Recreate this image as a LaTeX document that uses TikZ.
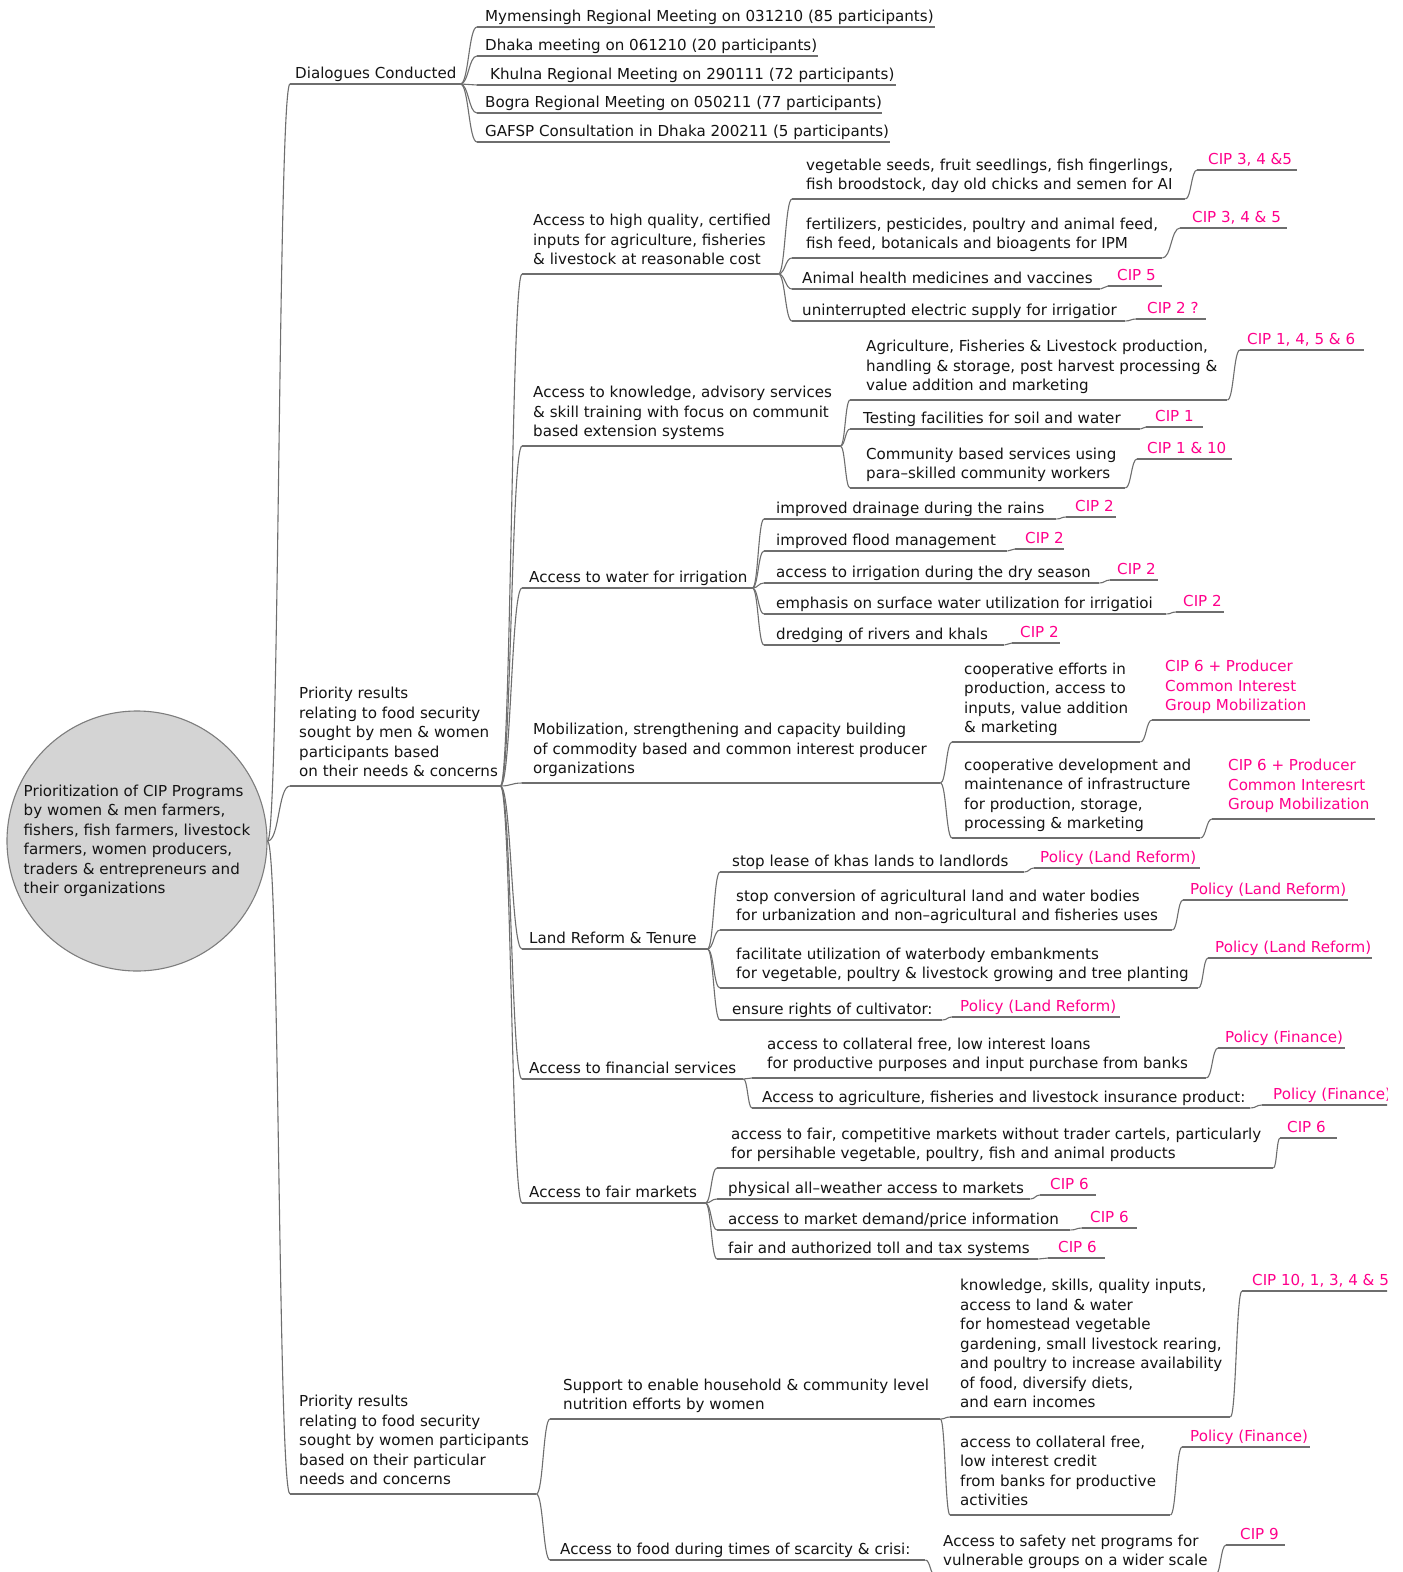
\documentclass[tikz,border=0pt]{standalone}
\usepackage{fontspec}
\setmainfont{DejaVu Sans}
\usetikzlibrary{calc}
\definecolor{edgegray}{RGB}{110,110,110}
\definecolor{cippink}{RGB}{255,0,140}
\definecolor{rootfill}{RGB}{212,212,212}
\definecolor{rootline}{RGB}{125,125,125}
\definecolor{txt}{RGB}{20,20,20}
\tikzset{
  mm/.style={anchor=south west, inner xsep=0pt, inner ysep=5pt, text depth=0pt,
    font=\fontsize{15.1}{19.5}\selectfont, text=txt},
  ml/.style={inner ysep=9pt},
  pink/.style={text=cippink},
  uline/.style={draw=edgegray, line width=1.1pt},
  edge/.style={draw=edgegray, line width=1.1pt},
  rootnode/.style={circle, draw=rootline, fill=rootfill, line width=1.1pt,
    minimum size=260pt, inner sep=0pt, align=left,
    font=\fontsize{15.1}{19.5}\selectfont, text=txt}
}
\newcommand\mmn[7]{%
  \node[mm,#1] (#2) at (#3,#5) {\makebox[\dimexpr #4pt-#3pt\relax][l]{\hspace*{#6pt}\begin{tabular}[b]{@{}l@{}}#7\end{tabular}}};
  \draw[uline] (#2.south west) -- (#2.south east);}
\newcommand\mmedge[2]{%
  \draw[edge] let \p1=(#1.south east), \p2=(#2.south west), \n1={0.5*(\x2-\x1)} in
    (\p1) .. controls +(\n1,0) and +(-\n1,0) .. (\p2);}
\begin{document}
\begin{tikzpicture}[x=1pt,y=-1pt]
\useasboundingbox (0,0) rectangle (1403,1572);
\fill[white] (0,0) rectangle (1403,1572);
\begin{scope}
\clip (0,0) rectangle (1387,1572);
\node[rootnode] (root) at (137,841) {Prioritization of CIP Programs\\by women \& men farmers,\\fishers, fish farmers, livestock\\farmers, women producers,\\traders \& entrepreneurs and\\their organizations};

\mmn{}{D}{290}{460}{84}{5}{Dialogues Conducted}
\mmn{ml}{P1}{290}{500}{786}{9}{Priority results\\relating to food security\\sought by men \& women\\participants based\\on their needs \& concerns}
\mmn{ml}{P2}{290}{536}{1494}{9}{Priority results\\relating to food security\\sought by women participants\\based on their particular\\needs and concerns}

\draw[edge] (root.east) .. controls +(12,0) and +(-12,0) .. (D.south west);
\draw[edge] (root.east) .. controls +(12,0) and +(-12,0) .. (P1.south west);
\draw[edge] (root.east) .. controls +(12,0) and +(-12,0) .. (P2.south west);

\mmn{}{M1}{477}{935}{27}{8}{Mymensingh Regional Meeting on 031210 (85 participants)}
\mmn{}{M2}{477}{818}{56}{8}{Dhaka meeting on 061210 (20 participants)}
\mmn{}{M3}{477}{896}{85}{13}{Khulna Regional Meeting on 290111 (72 participants)}
\mmn{}{M4}{477}{882}{113}{8}{Bogra Regional Meeting on 050211 (77 participants)}
\mmn{}{M5}{477}{890}{142}{8}{GAFSP Consultation in Dhaka 200211 (5 participants)}
\mmedge{D}{M1}\mmedge{D}{M2}\mmedge{D}{M3}\mmedge{D}{M4}\mmedge{D}{M5}

\mmn{ml}{A1}{522}{778}{274}{11}{Access to high quality, certified\\inputs for agriculture, fisheries\\\& livestock at reasonable cost}
\mmn{ml}{A2}{522}{840}{446}{11}{Access to knowledge, advisory services\\\& skill training with focus on communit\\based extension systems}
\mmn{}{A3}{522}{752}{588}{7}{Access to water for irrigation}
\mmn{ml}{A4}{522}{940}{783}{11}{Mobilization, strengthening and capacity building\\of commodity based and common interest producer\\organizations}
\mmn{}{A5}{522}{707}{949}{7}{Land Reform \& Tenure}
\mmn{}{A6}{522}{743}{1079}{7}{Access to financial services}
\mmn{}{A7}{522}{705}{1203}{7}{Access to fair markets}
\mmedge{P1}{A1}\mmedge{P1}{A2}\mmedge{P1}{A3}\mmedge{P1}{A4}\mmedge{P1}{A5}\mmedge{P1}{A6}\mmedge{P1}{A7}

\mmn{ml}{C11}{792}{1185}{199}{14}{vegetable seeds, fruit seedlings, fish fingerlings,\\fish broodstock, day old chicks and semen for AI}
\mmn{pink}{L11}{1197}{1297}{170}{11}{CIP 3, 4 \&5}
\mmn{ml}{C12}{792}{1162}{258}{14}{fertilizers, pesticides, poultry and animal feed,\\fish feed, botanicals and bioagents for IPM}
\mmn{pink}{L12}{1180}{1287}{228}{12}{CIP 3, 4 \& 5}
\mmn{}{C13}{792}{1100}{289}{10}{Animal health medicines and vaccines}
\mmn{pink}{L13}{1108}{1162}{286}{9}{CIP 5}
\mmn{}{C14}{792}{1125}{321}{10}{uninterrupted electric supply for irrigatior}
\mmn{pink}{L14}{1136}{1206}{319}{11}{CIP 2 ?}
\mmedge{A1}{C11}\mmedge{A1}{C12}\mmedge{A1}{C13}\mmedge{A1}{C14}
\mmedge{C11}{L11}\mmedge{C12}{L12}\mmedge{C13}{L13}\mmedge{C14}{L14}

\mmn{ml}{C21}{850}{1227}{400}{16}{Agriculture, Fisheries \& Livestock production,\\handling \& storage, post harvest processing \&\\value addition and marketing}
\mmn{pink}{L21}{1240}{1364}{350}{7}{CIP 1, 4, 5 \& 6}
\mmn{}{C22}{850}{1140}{429}{13}{Testing facilities for soil and water}
\mmn{pink}{L22}{1146}{1203}{427}{9}{CIP 1}
\mmn{ml}{C23}{850}{1125}{488}{16}{Community based services using\\para–skilled community workers}
\mmn{pink}{L23}{1137}{1232}{459}{10}{CIP 1 \& 10}
\mmedge{A2}{C21}\mmedge{A2}{C22}\mmedge{A2}{C23}
\mmedge{C21}{L21}\mmedge{C22}{L22}\mmedge{C23}{L23}

\mmn{}{C31}{764}{1056}{519}{12}{improved drainage during the rains}
\mmn{pink}{L31}{1066}{1116}{517}{9}{CIP 2}
\mmn{}{C32}{764}{1007}{551}{12}{improved flood management}
\mmn{pink}{L32}{1015}{1064}{549}{10}{CIP 2}
\mmn{}{C33}{764}{1099}{583}{12}{access to irrigation during the dry season}
\mmn{pink}{L33}{1110}{1158}{580}{7}{CIP 2}
\mmn{}{C34}{764}{1166}{614}{12}{emphasis on surface water utilization for irrigatioi}
\mmn{pink}{L34}{1176}{1224}{612}{7}{CIP 2}
\mmn{}{C35}{764}{1004}{645}{12}{dredging of rivers and khals}
\mmn{pink}{L35}{1012}{1060}{643}{8}{CIP 2}
\mmedge{A3}{C31}\mmedge{A3}{C32}\mmedge{A3}{C33}\mmedge{A3}{C34}\mmedge{A3}{C35}
\mmedge{C31}{L31}\mmedge{C32}{L32}\mmedge{C33}{L33}\mmedge{C34}{L34}\mmedge{C35}{L35}

\mmn{ml}{C41}{952}{1140}{742}{12}{cooperative efforts in\\production, access to\\inputs, value addition\\\& marketing}
\mmn{ml,pink}{L41}{1152}{1310}{720}{13}{CIP 6 + Producer\\Common Interest\\Group Mobilization}
\mmn{ml}{C42}{952}{1200}{838}{12}{cooperative development and\\maintenance of infrastructure\\for production, storage,\\processing \& marketing}
\mmn{ml,pink}{L42}{1212}{1375}{819}{16}{CIP 6 + Producer\\Common Interesrt\\Group Mobilization}
\mmedge{A4}{C41}\mmedge{A4}{C42}
\mmedge{C41}{L41}\mmedge{C42}{L42}

\mmn{}{C51}{720}{1024}{872}{12}{stop lease of khas lands to landlords}
\mmn{pink}{L51}{1034}{1200}{868}{6}{Policy (Land Reform)}
\mmn{ml}{C52}{720}{1172}{930}{16}{stop conversion of agricultural land and water bodies\\for urbanization and non–agricultural and fisheries uses}
\mmn{pink}{L52}{1183}{1348}{900}{7}{Policy (Land Reform)}
\mmn{ml}{C53}{720}{1198}{988}{16}{facilitate utilization of waterbody embankments\\for vegetable, poultry \& livestock growing and tree planting}
\mmn{pink}{L53}{1208}{1372}{958}{7}{Policy (Land Reform)}
\mmn{}{C54}{720}{942}{1020}{12}{ensure rights of cultivator:}
\mmn{pink}{L54}{952}{1120}{1017}{8}{Policy (Land Reform)}
\mmedge{A5}{C51}\mmedge{A5}{C52}\mmedge{A5}{C53}\mmedge{A5}{C54}
\mmedge{C51}{L51}\mmedge{C52}{L52}\mmedge{C53}{L53}\mmedge{C54}{L54}

\mmn{ml}{C61}{752}{1206}{1078}{15}{access to collateral free, low interest loans\\for productive purposes and input purchase from banks}
\mmn{pink}{L61}{1218}{1345}{1048}{7}{Policy (Finance)}
\mmn{}{C62}{752}{1250}{1108}{10}{Access to agriculture, fisheries and livestock insurance product:}
\mmn{pink}{L62}{1262}{1403}{1105}{11}{Policy (Finance)}
\mmedge{A6}{C61}\mmedge{A6}{C62}
\mmedge{C61}{L61}\mmedge{C62}{L62}

\mmn{ml}{C71}{717}{1273}{1168}{14}{access to fair, competitive markets without trader cartels, particularly\\for persihable vegetable, poultry, fish and animal products}
\mmn{pink}{L71}{1280}{1337}{1138}{7}{CIP 6}
\mmn{}{C72}{717}{1030}{1199}{11}{physical all–weather access to markets}
\mmn{pink}{L72}{1040}{1096}{1195}{10}{CIP 6}
\mmn{}{C73}{717}{1070}{1230}{11}{access to market demand/price information}
\mmn{pink}{L73}{1082}{1137}{1228}{8}{CIP 6}
\mmn{}{C74}{717}{1038}{1259}{11}{fair and authorized toll and tax systems}
\mmn{pink}{L74}{1048}{1105}{1258}{10}{CIP 6}
\mmedge{A7}{C71}\mmedge{A7}{C72}\mmedge{A7}{C73}\mmedge{A7}{C74}
\mmedge{C71}{L71}\mmedge{C72}{L72}\mmedge{C73}{L73}\mmedge{C74}{L74}

\mmn{ml}{B1}{550}{940}{1419}{13}{Support to enable household \& community level\\nutrition efforts by women}
\mmn{}{B2}{550}{925}{1560}{10}{Access to food during times of scarcity \& crisi:}
\mmedge{P2}{B1}\mmedge{P2}{B2}

\mmn{ml}{C81}{950}{1230}{1417}{10}{knowledge, skills, quality inputs,\\access to land \& water\\for homestead vegetable\\gardening, small livestock rearing,\\and poultry to increase availability\\of food, diversify diets,\\and earn incomes}
\mmn{pink}{L81}{1242}{1403}{1291}{10}{CIP 10, 1, 3, 4 \& 5}
\mmn{ml}{C82}{950}{1170}{1515}{10}{access to collateral free,\\low interest credit\\from banks for productive\\activities}
\mmn{pink}{L82}{1182}{1310}{1447}{8}{Policy (Finance)}
\mmedge{B1}{C81}\mmedge{B1}{C82}
\mmedge{C81}{L81}\mmedge{C82}{L82}

\mmn{ml}{C91}{935}{1215}{1575}{8}{Access to safety net programs for\\vulnerable groups on a wider scale}
\mmn{pink}{L91}{1226}{1285}{1545}{14}{CIP 9}
\mmedge{B2}{C91}\mmedge{C91}{L91}
\end{scope}
\end{tikzpicture}
\end{document}
